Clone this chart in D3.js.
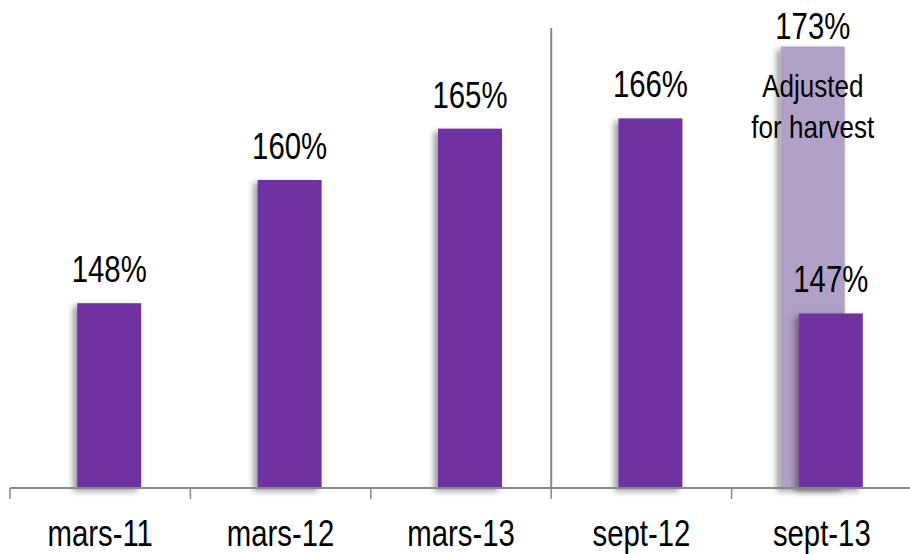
<!DOCTYPE html>
<html>
<head>
<meta charset="utf-8">
<script src="https://cdn.jsdelivr.net/npm/d3@7"></script>
<style>
  html, body { margin: 0; padding: 0; background: #fff; }
  svg { display: block; }
  text { font-family: "Liberation Sans", Arial, sans-serif; fill: #000; }
</style>
</head>
<body>
<svg id="chart" width="910" height="554"></svg>
<script>
// Ratio by reporting date
const categories = ["mars-11", "mars-12", "mars-13", "sept-12", "sept-13"];
const reported   = [148, 160, 165, 166, 147];
const adjusted   = [null, null, null, null, 173];   // adjusted for harvest
const adjustedNote = ["Adjusted", "for harvest"];

const W = 910, H = 554;
const svg = d3.select("#chart");

const x = d3.scaleBand().domain(categories).range([10, 912]).padding(0);
const series = d3.scalePoint().domain(["adjusted", "reported"]).range([-9, 9]);
const barW = 64;
const y = d3.scaleLinear().domain([130, 175]).range([488, 26]);

// narrow lettering: horizontally condensed text
const NARROW = 0.815;
function label(g, px, py, str, size, sx) {
  return g.append("text")
    .attr("transform", `translate(${px},${py}) scale(${sx},1)`)
    .attr("text-anchor", "middle")
    .attr("font-size", size)
    .text(str);
}

const defs = svg.append("defs");
const sh = defs.append("filter").attr("id", "shadow")
  .attr("x", "-30%").attr("y", "-10%").attr("width", "160%").attr("height", "120%");
sh.append("feDropShadow").attr("dx", -4).attr("dy", 3).attr("stdDeviation", 3)
  .attr("flood-color", "#000").attr("flood-opacity", 0.4);

const cx = (c, s) => x(c) + x.bandwidth() / 2 + series(s);

const adjData = categories.map((c, i) => ({ c, v: adjusted[i] })).filter(d => d.v != null);
const repData = categories.map((c, i) => ({ c, v: reported[i] }));

// adjusted bars (behind)
svg.append("g").selectAll("rect").data(adjData).join("rect")
  .attr("x", d => cx(d.c, "adjusted") - barW / 2)
  .attr("width", barW)
  .attr("y", d => y(d.v))
  .attr("height", d => y(130) - y(d.v))
  .attr("fill", "#B2A1C7")
  .attr("filter", "url(#shadow)");

// reported bars
svg.append("g").selectAll("rect").data(repData).join("rect")
  .attr("x", d => cx(d.c, "reported") - barW / 2)
  .attr("width", barW)
  .attr("y", d => y(d.v))
  .attr("height", d => y(130) - y(d.v))
  .attr("fill", "#7030A0")
  .attr("filter", "url(#shadow)");

// x axis
const axis = svg.append("g").attr("transform", `translate(0,${y(130)})`);
axis.append("line").attr("x1", 10).attr("x2", W).attr("y1", 0).attr("y2", 0)
  .attr("stroke", "#888").attr("stroke-width", 2);
axis.selectAll("line.tick").data(categories).join("line").attr("class", "tick")
  .attr("x1", d => x(d)).attr("x2", d => x(d)).attr("y1", 0).attr("y2", 11)
  .attr("stroke", "#888").attr("stroke-width", 1.5);
categories.forEach(c => label(axis, x(c) + x.bandwidth() / 2, 58, c, 36, NARROW));

// divider between March and September reports
svg.append("line")
  .attr("x1", x("sept-12")).attr("x2", x("sept-12"))
  .attr("y1", 28).attr("y2", y(130))
  .attr("stroke", "#888").attr("stroke-width", 2);

// value labels
const fmt = v => v + "%";
const vals = svg.append("g");
repData.forEach(d => label(vals, cx(d.c, "reported"), y(d.v) - 21, fmt(d.v), 36, NARROW));
adjData.forEach(d => label(vals, cx(d.c, "adjusted"), y(d.v) - 8, fmt(d.v), 36, NARROW));

// note on the adjusted bar
const note = svg.append("g");
adjustedNote.forEach((t, i) =>
  label(note, cx("sept-13", "adjusted"), 97 + i * 41, t, 31, 0.84));
</script>
</body>
</html>
